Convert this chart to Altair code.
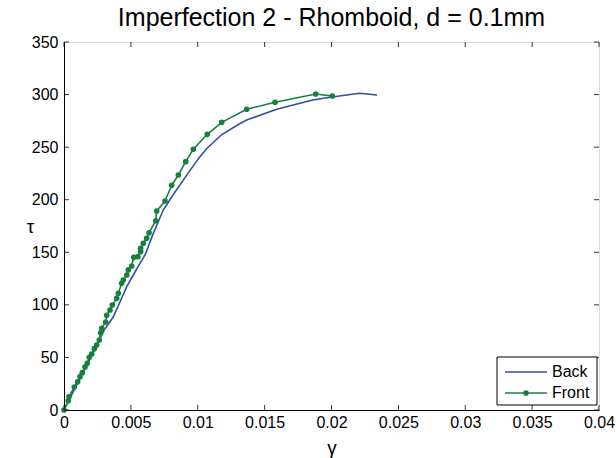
import altair as alt
import pandas as pd

# Front series (green, with markers)
front_x = [0, 0.00032, 0.00037, 0.00077, 0.00102, 0.0012, 0.00137, 0.00157, 0.00174, 0.00189,
           0.00207, 0.00227, 0.00244, 0.00264, 0.00274, 0.00282, 0.00312, 0.00319, 0.00344, 0.00361,
           0.00394, 0.00406, 0.00431, 0.00443, 0.00469, 0.00481, 0.00506, 0.00521, 0.00553, 0.00573,
           0.00573, 0.00593, 0.00618, 0.00636, 0.00686, 0.00693, 0.00755, 0.00805, 0.00855, 0.0091,
           0.00967, 0.01071, 0.01179, 0.01366, 0.01578, 0.01882, 0.02006]
front_y = [0, 8.8, 12.6, 21.9, 26.9, 31.7, 35.5, 40.9, 44.4, 50.1,
           53.3, 58.3, 61.8, 66.6, 73.5, 77.7, 83.7, 90.1, 95.1, 99.9,
           106.2, 111, 120.5, 123.6, 128.4, 133.2, 137, 145.2, 145.8, 150.6,
           153.8, 158.5, 163.3, 168.6, 180, 189.3, 198.8, 213.7, 223.5, 236.2,
           248, 262.2, 273.6, 286, 292.7, 300.5, 298.6]

# Back series (blue line)
back_x = [0, 0.001, 0.002, 0.003, 0.00369, 0.00419, 0.00469, 0.00518, 0.00568, 0.00606,
          0.00668, 0.00742, 0.00817, 0.0091, 0.0101, 0.0107, 0.0118, 0.0131, 0.0137, 0.0159,
          0.0186, 0.0199, 0.0221, 0.0234]
back_y = [0, 25, 50, 76, 88.7, 103, 117.3, 128.4, 139.5, 147.4,
          168, 190.2, 205, 222, 240, 249, 262, 272, 276, 286,
          294.8, 297.4, 301.2, 299.6]

x_ticks = [0, 0.005, 0.01, 0.015, 0.02, 0.025, 0.03, 0.035, 0.04]
y_ticks = [0, 50, 100, 150, 200, 250, 300, 350]

BLUE = "#2f4ea4"
GREEN = "#17803d"
FONT = "Liberation Sans"
FS = 16
W, H = 535, 368

front = pd.DataFrame({"x": front_x, "y": front_y, "i": range(len(front_x))})
back = pd.DataFrame({"x": back_x, "y": back_y, "i": range(len(back_x))})
xt = pd.DataFrame({"v": x_ticks})
yt = pd.DataFrame({"v": y_ticks})
one = pd.DataFrame({"a": [0]})

xs = alt.Scale(domain=[0, 0.04], nice=False, zero=False)
ys = alt.Scale(domain=[0, 350], nice=False, zero=False)

xaxis = alt.Axis(values=x_ticks, format="~g", ticks=False, grid=False, title="γ",
                 labelFont=FONT, labelFontSize=FS, labelColor="black", labelPadding=4,
                 labelFlush=False, labelOverlap=False,
                 titleFont=FONT, titleFontSize=19, titleFontWeight="normal", titleColor="black",
                 titleX=W / 2, titleY=37, titleAlign="center", titleBaseline="middle",
                 domainColor="black")
yaxis = alt.Axis(values=y_ticks, ticks=False, grid=False, title="τ", titleAngle=0,
                 labelFont=FONT, labelFontSize=FS, labelColor="black", labelPadding=6,
                 labelFlush=False, labelOverlap=False,
                 titleFont=FONT, titleFontSize=19, titleFontWeight="normal", titleColor="black",
                 titleX=-34, titleY=H / 2, titleAlign="center", titleBaseline="middle",
                 domainColor="black")

back_line = alt.Chart(back).mark_line(color=BLUE, strokeWidth=1.6, clip=True).encode(
    x=alt.X("x:Q", scale=xs, axis=xaxis),
    y=alt.Y("y:Q", scale=ys, axis=yaxis),
    order="i:Q",
)
front_line = alt.Chart(front).mark_line(color=GREEN, strokeWidth=1.6).encode(
    x=alt.X("x:Q", scale=xs), y=alt.Y("y:Q", scale=ys), order="i:Q"
)
front_pts = alt.Chart(front).mark_circle(color=GREEN, size=32, opacity=1).encode(
    x=alt.X("x:Q", scale=xs), y=alt.Y("y:Q", scale=ys)
)

TL = 5
xt_bot = alt.Chart(xt).mark_rule(color="black", strokeWidth=0.8).encode(
    x=alt.X("v:Q", scale=xs), y=alt.value(H), y2=alt.value(H - TL))
xt_top = alt.Chart(xt).mark_rule(color="black", strokeWidth=0.8).encode(
    x=alt.X("v:Q", scale=xs), y=alt.value(0), y2=alt.value(TL))
yt_left = alt.Chart(yt).mark_rule(color="black", strokeWidth=0.8).encode(
    y=alt.Y("v:Q", scale=ys), x=alt.value(0), x2=alt.value(TL))
yt_right = alt.Chart(yt).mark_rule(color="black", strokeWidth=0.8).encode(
    y=alt.Y("v:Q", scale=ys), x=alt.value(W), x2=alt.value(W - TL))

# Legend box
LX0, LX1, LY0, LY1 = 433, 533, 315, 363
leg_box = alt.Chart(one).mark_rect(fill="white", stroke="black", strokeWidth=1).encode(
    x=alt.value(LX0), x2=alt.value(LX1), y=alt.value(LY0), y2=alt.value(LY1))
leg_back = alt.Chart(one).mark_rule(color=BLUE, strokeWidth=1.6).encode(
    x=alt.value(441), x2=alt.value(483), y=alt.value(330))
leg_front = alt.Chart(one).mark_rule(color=GREEN, strokeWidth=1.6).encode(
    x=alt.value(441), x2=alt.value(483), y=alt.value(351))
leg_dot = alt.Chart(one).mark_circle(color=GREEN, size=32, opacity=1).encode(
    x=alt.value(462), y=alt.value(351))
leg_t1 = alt.Chart(one).mark_text(text="Back", font=FONT, fontSize=FS, align="left",
                                  baseline="middle", color="black").encode(
    x=alt.value(488), y=alt.value(330))
leg_t2 = alt.Chart(one).mark_text(text="Front", font=FONT, fontSize=FS, align="left",
                                  baseline="middle", color="black").encode(
    x=alt.value(488), y=alt.value(351))

chart = alt.layer(
    back_line, front_line, front_pts, xt_bot, xt_top, yt_left, yt_right,
    leg_box, leg_back, leg_front, leg_dot, leg_t1, leg_t2,
).properties(
    width=W, height=H,
    title=alt.TitleParams("Imperfection 2 - Rhomboid, d = 0.1mm", font=FONT, fontSize=25,
                          fontWeight="normal", color="black", anchor="middle", offset=3),
    autosize=alt.AutoSizeParams(type="none"),
    padding={"left": 64, "top": 42, "right": 17, "bottom": 48},
).configure_view(stroke="black", strokeWidth=1).configure(background="white")

chart.save("out.html", embed_options={"renderer": "svg", "actions": False})
